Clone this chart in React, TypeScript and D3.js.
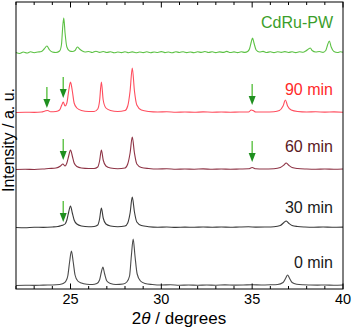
import { useEffect, useRef } from "react";
import * as d3 from "d3";

// chart size and the plot frame inside it
const W = 354;
const H = 330;
const margin = { top: 2, right: 11, bottom: 41, left: 16 };

// x ticks
const majorTicks = [25, 30, 35, 40];
const minorTicks = d3.range(22, 41, 1);

// patterns, [2theta, intensity above own baseline]
const min0 = [
  [22, 0.5], [22.5, 0.8], [23, 0.6], [23.5, 0.9], [24, 1], [24.4, 1.5], [24.6, 2.5], [24.75, 5], [24.85, 10],
  [24.95, 24], [25.05, 35], [25.15, 24], [25.25, 11], [25.4, 5], [25.6, 3], [25.9, 1.8], [26.2, 1.5], [26.45, 2.5],
  [26.6, 6], [26.7, 14], [26.78, 19], [26.88, 12], [27, 5], [27.2, 2.5], [27.5, 1.5], [27.9, 2], [28.1, 4],
  [28.25, 10], [28.35, 30], [28.45, 47], [28.55, 30], [28.67, 12], [28.85, 5], [29.1, 2.5], [29.5, 1.5], [30, 1],
  [30.5, 1.2], [31, 0.8], [31.5, 1], [32, 0.7], [32.5, 1], [33, 0.8], [33.5, 1.1], [34, 0.9], [34.5, 1], [35, 1.3],
  [35.5, 1], [36, 1.2], [36.4, 1.5], [36.7, 3.5], [36.85, 8], [36.95, 11], [37.05, 8], [37.2, 3.5], [37.45, 1.8],
  [37.8, 1.2], [38.2, 1], [38.6, 0.9], [39, 1], [39.5, 0.8], [40, 1],
];
const min30 = [
  [22, 0.5], [22.5, 0.3], [23, 0.8], [23.5, 0.6], [24, 1], [24.3, 1.5], [24.5, 2.5], [24.6, 3], [24.7, 4], [24.8, 8],
  [24.9, 16], [25.0, 22], [25.1, 15], [25.2, 8], [25.35, 4], [25.6, 2], [26, 1.2], [26.3, 1.5], [26.5, 3], [26.6, 9],
  [26.7, 20], [26.8, 10], [26.95, 4], [27.2, 2], [27.6, 1.2], [28, 2], [28.15, 5], [28.28, 15], [28.4, 31],
  [28.52, 16], [28.65, 6], [28.9, 2.5], [29.3, 1.3], [29.8, 0.8], [30.3, 1], [30.8, 0.6], [31.3, 0.9], [31.8, 0.7],
  [32.3, 1], [32.8, 0.8], [33.3, 1], [33.8, 0.7], [34.3, 1], [34.8, 1.2], [35.2, 0.9], [35.7, 1], [36.2, 1.3],
  [36.55, 2.5], [36.75, 5.5], [36.87, 7], [37, 5], [37.2, 2.5], [37.5, 1.5], [37.9, 1], [38.4, 0.8], [38.9, 1],
  [39.4, 0.7], [40, 0.9],
];
const min60 = [
  [22, 0.5], [22.5, 0.8], [23, 0.5], [23.5, 1], [23.8, 1.5], [24.2, 2], [24.45, 4], [24.58, 6], [24.7, 4], [24.8, 7],
  [24.9, 14], [25.0, 20], [25.1, 14], [25.2, 7], [25.35, 3.5], [25.6, 2], [26, 1.5], [26.3, 1.5], [26.5, 3],
  [26.6, 9], [26.7, 20], [26.8, 10], [26.95, 4], [27.2, 2], [27.6, 1.3], [28, 2], [28.15, 6], [28.28, 17],
  [28.4, 33], [28.52, 17], [28.65, 6], [28.9, 2.5], [29.3, 1.5], [29.8, 1], [30.3, 1.2], [30.8, 0.7], [31.3, 1],
  [31.8, 0.8], [32.3, 1.1], [32.8, 0.7], [33.3, 1], [33.8, 0.8], [34.3, 1], [34.8, 1.2], [35.0, 2.5], [35.2, 1.2],
  [35.6, 1], [36.2, 1.3], [36.55, 2.5], [36.75, 5], [36.87, 7], [37, 5], [37.2, 2.5], [37.5, 1.5], [38, 1],
  [38.5, 0.8], [39, 1], [39.5, 0.7], [40, 1],
];
const min90 = [
  [22, 0.5], [22.5, 0.8], [23, 0.6], [23.4, 1], [23.6, 2], [23.75, 2.5], [23.9, 1.2], [24.2, 1.5], [24.4, 3],
  [24.52, 8], [24.6, 11], [24.7, 7], [24.8, 10], [24.9, 22], [25.0, 31], [25.1, 22], [25.2, 10], [25.35, 5],
  [25.6, 2.5], [26, 1.5], [26.3, 1.5], [26.5, 4], [26.6, 12], [26.7, 31], [26.8, 13], [26.95, 5], [27.2, 2.5],
  [27.6, 1.5], [28, 2.5], [28.15, 7], [28.28, 22], [28.4, 45], [28.52, 22], [28.65, 8], [28.9, 3], [29.3, 1.5],
  [29.8, 1], [30.3, 1.2], [30.8, 0.8], [31.3, 1], [31.8, 0.7], [32.3, 1.1], [32.8, 0.8], [33.3, 1], [33.8, 0.8],
  [34.3, 1], [34.8, 1], [34.95, 3], [35.05, 2.5], [35.2, 1], [35.7, 1], [36.2, 1.3], [36.5, 2.5], [36.7, 7],
  [36.83, 13], [36.95, 7], [37.15, 3], [37.5, 1.5], [38, 1], [38.5, 1.2], [39, 0.9], [39.5, 1.1], [40, 0.8],
];
const cdruPW = [
  [22, 0.5], [22.2, -0.5], [22.4, 1], [22.6, 0], [22.8, 1.2], [23, 0.3], [23.2, 1], [23.4, 1.5], [23.55, 4],
  [23.7, 7], [23.85, 3], [24, 1], [24.2, 0.5], [24.4, 2], [24.5, 8], [24.58, 28], [24.63, 35], [24.7, 20], [24.8, 6],
  [24.95, 2], [25.1, 1.5], [25.25, 2.5], [25.38, 6], [25.5, 4], [25.65, 2], [25.8, 1], [26, 1.5], [26.2, 0.5],
  [26.4, 1.8], [26.6, 0.6], [26.8, 1.5], [27, 0.5], [27.2, 1.2], [27.4, 0.2], [27.6, 1], [27.8, 0.4], [28, 1.3],
  [28.2, 0.3], [28.4, 1.1], [28.6, 0.2], [28.8, 1], [29, 0.4], [29.2, 1.2], [29.4, 0.3], [29.6, 1], [29.8, 0.5],
  [30, 1.4], [30.2, 0.4], [30.4, 1], [30.6, 0.2], [30.8, 1.2], [31, 0.5], [31.2, 1.3], [31.4, 0.4], [31.6, 1],
  [31.8, 0.3], [32, 1.2], [32.2, 0.6], [32.4, 1.5], [32.6, 0.5], [32.8, 1.2], [33, 0.4], [33.2, 1.1], [33.4, 0.6],
  [33.6, 1.6], [33.8, 0.5], [34, 1.1], [34.2, 0.4], [34.4, 1.2], [34.6, 0.6], [34.75, 1.5], [34.85, 4], [34.95, 11],
  [35.02, 15], [35.1, 10], [35.22, 3], [35.4, 1], [35.6, 1.6], [35.8, 0.5], [36, 1.2], [36.2, 0.4], [36.4, 1.3],
  [36.6, 0.6], [36.8, 1.4], [37, 0.5], [37.2, 1.2], [37.4, 0.4], [37.6, 1.3], [37.8, 0.8], [37.95, 2], [38.1, 4],
  [38.2, 5], [38.3, 2.5], [38.5, 1], [38.7, 1.5], [38.9, 0.6], [39.05, 2.5], [39.15, 8], [39.25, 12], [39.35, 6],
  [39.5, 1.5], [39.7, 0.5], [39.85, 1.2], [40, 0.8],
];

// series, bottom to top
const seriesNames = ["0 min", "30 min", "60 min", "90 min", "CdRu-PW"];
const seriesData = [min0, min30, min60, min90, cdruPW];
const offsets = [3, 61, 119, 176, 236];
const lineColours = ["#4a4a4a", "#3a3a3a", "#8e3446", "#ff4d5e", "#5cc144"];
const labelColours = ["#1a1a1a", "#1a1a1a", "#5a1822", "#ff2a2a", "#3b9e2a"];
// label baselines, in the same units as the patterns
const labelY = [21, 76, 137, 194, 261];

// green arrows: 2theta and tip height
const arrowX = [23.7, 24.6, 35.0, 24.6, 35.0, 24.6];
const arrowTip = [181, 191, 184, 129, 127, 67];

export default function App() {
  const ref = useRef<SVGSVGElement>(null);

  useEffect(() => {
    const svg = d3.select(ref.current);
    svg.selectAll("*").remove();

    const x = d3.scaleLinear().domain([22, 40]).range([margin.left, W - margin.right]);
    const y = d3.scaleLinear().domain([0, 287]).range([H - margin.bottom, margin.top]);
    const bottom = H - margin.bottom;

    const line = d3.line<number[]>()
      .x((d) => x(d[0]))
      .curve(d3.curveMonotoneX);

    // patterns
    seriesData.forEach((data, i) => {
      svg.append("path")
        .datum(data)
        .attr("fill", "none")
        .attr("stroke", lineColours[i])
        .attr("stroke-width", 1.1)
        .attr("stroke-linejoin", "round")
        .attr("d", line.y((d) => y(d[1] + offsets[i])));

      svg.append("text")
        .attr("x", x(39.45))
        .attr("y", y(labelY[i]))
        .attr("text-anchor", "end")
        .attr("font-family", "Liberation Sans, Arial, sans-serif")
        .attr("font-size", 16)
        .attr("fill", labelColours[i])
        .text(seriesNames[i]);
    });

    // arrows
    arrowX.forEach((a, i) => {
      const tx = x(a);
      const ty = y(arrowTip[i]);
      svg.append("line")
        .attr("x1", tx).attr("x2", tx)
        .attr("y1", ty - 21).attr("y2", ty - 6)
        .attr("stroke", "#5cc144")
        .attr("stroke-width", 1.4);
      svg.append("path")
        .attr("d", `M${tx - 3.5},${ty - 9}L${tx + 3.5},${ty - 9}L${tx},${ty}Z`)
        .attr("fill", "#1f8f1f");
    });

    // frame
    svg.append("rect")
      .attr("x", margin.left)
      .attr("y", margin.top)
      .attr("width", W - margin.left - margin.right)
      .attr("height", bottom - margin.top)
      .attr("fill", "none")
      .attr("stroke", "#000")
      .attr("stroke-width", 1);

    // inward ticks, bottom and top
    const ticks = svg.append("g").attr("stroke", "#000").attr("stroke-width", 1);
    minorTicks.forEach((t) => {
      const len = majorTicks.includes(t) ? 5.5 : 3;
      ticks.append("line").attr("x1", x(t)).attr("x2", x(t)).attr("y1", bottom).attr("y2", bottom - len);
      ticks.append("line").attr("x1", x(t)).attr("x2", x(t)).attr("y1", margin.top).attr("y2", margin.top + len);
    });

    svg.append("g")
      .selectAll("text")
      .data(majorTicks)
      .join("text")
      .attr("x", (d) => x(d))
      .attr("y", bottom + 14.5)
      .attr("text-anchor", "middle")
      .attr("font-family", "Liberation Sans, Arial, sans-serif")
      .attr("font-size", 14.5)
      .attr("fill", "#000")
      .text((d) => d);

    // axis titles
    const xt = svg.append("text")
      .attr("x", 179)
      .attr("y", H - 6)
      .attr("text-anchor", "middle")
      .attr("font-family", "Liberation Sans, Arial, sans-serif")
      .attr("font-size", 17)
      .attr("fill", "#000");
    xt.append("tspan").text("2");
    xt.append("tspan").attr("font-style", "italic").text("θ");
    xt.append("tspan").text(" / degrees");

    svg.append("text")
      .attr("transform", `translate(14, 140) rotate(-90)`)
      .attr("text-anchor", "middle")
      .attr("font-family", "Liberation Sans, Arial, sans-serif")
      .attr("font-size", 16)
      .attr("fill", "#000")
      .text("Intensity / a. u.");
  }, []);

  return (
    <svg
      ref={ref}
      width={W}
      height={H}
      style={{ position: "absolute", left: 0, top: 0, background: "#fff" }}
    />
  );
}
